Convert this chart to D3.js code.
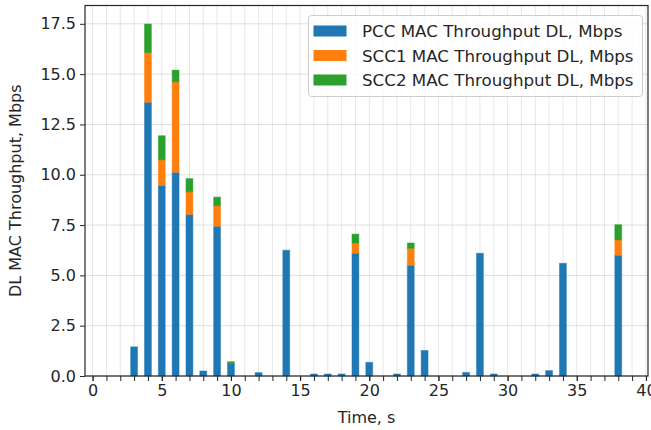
<!DOCTYPE html>
<html><head><meta charset="utf-8">
<script src="https://cdn.jsdelivr.net/npm/d3@7"></script>
<style>body{margin:0;background:#fff}svg{display:block}text{font-family:"DejaVu Sans",sans-serif;fill:#262626}</style>
</head><body><svg id="c" width="651" height="430"></svg>
<script>
const times = d3.range(0, 41);
const pcc  = [0,0,0,1.45,13.6,9.47,10.12,8.03,0.25,7.44,0.62,0,0.17,0,6.25,0,0.1,0.1,0.1,6.1,0.68,0,0.1,5.5,1.27,0,0,0.18,6.1,0.1,0,0,0.1,0.27,5.6,0,0,0,6.0,0,0];
const scc1 = [0,0,0,0,2.47,1.27,4.5,1.12,0,1.02,0,0,0,0,0,0,0,0,0,0.5,0,0,0,0.84,0,0,0,0,0,0,0,0,0,0,0,0,0,0,0.76,0,0];
const scc2 = [0,0,0,0,1.42,1.2,0.58,0.66,0,0.43,0.09,0,0,0,0,0,0,0,0,0.45,0,0,0,0.27,0,0,0,0,0,0,0,0,0,0,0,0,0,0,0.76,0,0];
const seriesNames = ["PCC MAC Throughput DL, Mbps","SCC1 MAC Throughput DL, Mbps","SCC2 MAC Throughput DL, Mbps"];
const colors = ["#1f77b4","#ff7f0e","#2ca02c"];
const xTicks = [0,5,10,15,20,25,30,35,40];
const yTicks = [0,2.5,5,7.5,10,12.5,15,17.5];

const svg = d3.select("#c");
const L=85, R=648, T=5.5, B=376;
const x = d3.scaleLinear().domain([-0.55,40.15]).range([L,R]);
const y = d3.scaleLinear().domain([0,18.41]).range([B,T]);
const fs = 16;

// grid
const g = svg.append("g");
g.selectAll("line.vg").data(times).join("line")
  .attr("x1",d=>x(d)).attr("x2",d=>x(d)).attr("y1",T).attr("y2",B)
  .attr("stroke","#b0b0b0").attr("stroke-opacity",0.3).attr("stroke-width",1);
g.selectAll("line.hg").data(yTicks).join("line")
  .attr("x1",L).attr("x2",R).attr("y1",d=>y(d)).attr("y2",d=>y(d))
  .attr("stroke","#b0b0b0").attr("stroke-opacity",0.4).attr("stroke-width",1);

// stacked bars
const rows = times.map((t,i)=>({t, pcc:pcc[i], scc1:scc1[i], scc2:scc2[i]}));
const stack = d3.stack().keys(["pcc","scc1","scc2"])(rows);
const bw = x(0.5)-x(0);
stack.forEach((layer,k)=>{
  svg.append("g").selectAll("rect").data(layer.filter(d=>d[1]-d[0]>0)).join("rect")
    .attr("x",d=>x(d.data.t)-bw/2).attr("width",bw)
    .attr("y",d=>y(d[1])).attr("height",d=>y(d[0])-y(d[1]))
    .attr("fill",colors[k]).attr("stroke",colors[k]).attr("stroke-opacity",0.45).attr("stroke-width",1);
});

// axes
const xAxis = d3.axisBottom(x).tickValues(xTicks).tickFormat(d3.format("d")).tickSize(5).tickPadding(4);
const xMinor = d3.axisBottom(x).tickValues(times).tickFormat("").tickSize(5);
const gx2 = svg.append("g").attr("transform",`translate(0,${B})`).call(xMinor);
const gx = svg.append("g").attr("transform",`translate(0,${B})`).call(xAxis);
const yAxis = d3.axisLeft(y).tickValues(yTicks).tickFormat(d3.format(".1f")).tickSize(5).tickPadding(4);
const gy = svg.append("g").attr("transform",`translate(${L},0)`).call(yAxis);
[gx,gx2,gy].forEach(a=>{
  a.select(".domain").remove();
  a.selectAll(".tick line").attr("stroke","#262626").attr("stroke-width",1);
  a.selectAll("text").attr("font-size",fs).attr("font-family","DejaVu Sans, sans-serif").attr("fill","#262626");
});

// spines
svg.append("rect").attr("x",L).attr("y",T).attr("width",R-L).attr("height",B-T)
  .attr("fill","none").attr("stroke","#262626").attr("stroke-width",1.2);

// labels
svg.append("text").attr("x",(L+R)/2).attr("y",423).attr("text-anchor","middle").attr("font-size",fs).text("Time, s");
svg.append("text").attr("transform",`translate(21,${(T+B)/2}) rotate(-90)`).attr("text-anchor","middle").attr("font-size",fs).text("DL MAC Throughput, Mbps");

// legend
const lg = svg.append("g");
lg.append("rect").attr("x",308.5).attr("y",15.5).attr("width",334).attr("height",81).attr("rx",3)
  .attr("fill","#fff").attr("fill-opacity",0.8).attr("stroke","#cccccc").attr("stroke-width",1);
seriesNames.forEach((n,i)=>{
  const cy = 31 + i*24.5;
  lg.append("rect").attr("x",313.5).attr("y",cy-5.5).attr("width",33).attr("height",11).attr("fill",colors[i]);
  lg.append("text").attr("x",362).attr("y",cy).attr("dy","0.36em").attr("font-size",16.7).text(n);
});
</script></body></html>
